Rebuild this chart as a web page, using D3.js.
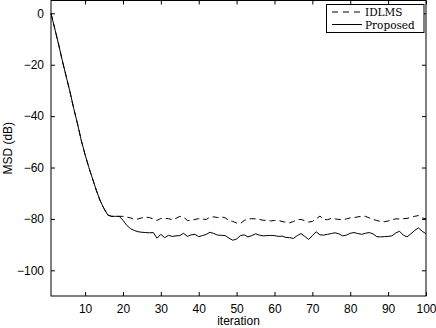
<!DOCTYPE html>
<html>
<head>
<meta charset="utf-8">
<script src="https://cdn.jsdelivr.net/npm/d3@7"></script>
<style>
  body { margin: 0; background: #fff; }
  svg { display: block; }
  .tick text { font-family: "Liberation Sans", Arial, sans-serif; font-size: 12px; fill: #000; }
</style>
</head>
<body>
<svg width="436" height="328"></svg>
<script>
// iteration 1..100
let iterations = d3.range(1, 101);

let idlms = [0, -6, -12, -18.5, -24.5, -30.5, -37, -43, -49.5, -55,
    -60, -64.5, -69, -73, -76, -78.5, -79, -79, -79, -79,
    -79.3, -79.6, -80.2, -80, -79.6, -79.3, -79.5, -80, -80.6, -79.8,
    -79.8, -79.9, -80.3, -79.8, -79, -79.3, -80.6, -80.6, -80.2, -79.9,
    -80.1, -80.2, -79.3, -79.2, -79.5, -79.2, -79.6, -80.6, -81, -81.6,
    -81.8, -80.6, -80.1, -79.9, -80, -80.2, -80.5, -80.6, -80.8, -80.6,
    -80.6, -81, -81.3, -81.5, -81, -80.3, -80.2, -80.7, -81.2, -81,
    -80, -78.9, -80.2, -80.3, -79.8, -80, -80.2, -80.3, -80, -79.6,
    -79.5, -79.2, -79, -79, -79.6, -80.2, -80.6, -81, -81.1, -80.8,
    -80.3, -80, -80, -79.9, -79.8, -79.4, -79, -78.7, -79.6, -80];

let proposed = [0, -6, -12, -18.5, -24.5, -30.5, -37, -43, -49.5, -55,
    -60, -64.5, -69, -73, -76, -78.5, -79, -79, -79, -80.5,
    -82.5, -83.8, -84.5, -85, -85.2, -85.3, -85.4, -85.3, -87.5, -86,
    -87.3, -86.4, -86.8, -86.6, -86.5, -85.6, -86.8, -86.2, -86, -86.9,
    -86.5, -86, -85.2, -85.7, -86.3, -86.4, -86.5, -87.5, -88.3, -87.8,
    -86.5, -86.2, -87, -86.5, -85.8, -86.3, -86.6, -86.5, -86.4, -86.5,
    -86.8, -86.7, -87.2, -87.3, -87.6, -86.5, -85.7, -86.8, -88, -86.5,
    -85, -86.2, -86.3, -86, -85.7, -85.4, -85.8, -86.6, -86.3, -85.6,
    -85.3, -85.7, -86, -85.6, -85.3, -85.8, -86.9, -87, -86.9, -86.8,
    -86.6, -85.5, -84.8, -86.3, -87, -85.8, -84.5, -83.5, -84.8, -85.8];

let xTicks = [10, 20, 30, 40, 50, 60, 70, 80, 90, 100];
let yTicks = [0, -20, -40, -60, -80, -100];
let seriesNames = ["IDLMS", "Proposed"];

let svg = d3.select("svg");
let plotLeft = 51, plotRight = 426, plotTop = 0.5, plotBottom = 296;

let x = d3.scaleLinear().domain([1, 100]).range([plotLeft, plotRight]);
let y = d3.scaleLinear().domain([-110, 5]).range([plotBottom, plotTop]);

let fmt = d => String(d).replace("-", "\u2212");

// axes, ticks pointing inward like matlab
svg.append("g").attr("transform", "translate(0," + plotBottom + ")")
    .call(d3.axisBottom(x).tickValues(xTicks).tickSize(-4).tickPadding(8))
    .call(g => g.select(".domain").remove());
svg.append("g").attr("transform", "translate(0," + plotTop + ")")
    .call(d3.axisTop(x).tickValues(xTicks).tickSize(-4).tickFormat(""))
    .call(g => g.select(".domain").remove());
svg.append("g").attr("transform", "translate(" + plotLeft + ",0)")
    .call(d3.axisLeft(y).tickValues(yTicks).tickSize(-4).tickPadding(7).tickFormat(fmt))
    .call(g => g.select(".domain").remove());
svg.append("g").attr("transform", "translate(" + plotRight + ",0)")
    .call(d3.axisRight(y).tickValues(yTicks).tickSize(-4).tickFormat(""))
    .call(g => g.select(".domain").remove());
svg.selectAll(".tick line").attr("stroke", "#000");

svg.append("rect")
    .attr("x", plotLeft).attr("y", plotTop)
    .attr("width", plotRight - plotLeft).attr("height", plotBottom - plotTop)
    .attr("fill", "none").attr("stroke", "#000").attr("stroke-width", 1);

let line = d3.line().x((d, i) => x(iterations[i])).y(d => y(d));

svg.append("path").datum(idlms)
    .attr("d", line).attr("fill", "none")
    .attr("stroke", "#000").attr("stroke-width", 1)
    .attr("stroke-dasharray", "6,4");

svg.append("path").datum(proposed)
    .attr("d", line).attr("fill", "none")
    .attr("stroke", "#000").attr("stroke-width", 1);

// axis labels
svg.append("text")
    .attr("x", (plotLeft + plotRight) / 2).attr("y", 325)
    .attr("text-anchor", "middle")
    .style("font-family", "Liberation Sans, Arial, sans-serif").style("font-size", "12px")
    .text("iteration");

svg.append("text")
    .attr("transform", "translate(12," + ((plotTop + plotBottom) / 2) + ") rotate(-90)")
    .attr("text-anchor", "middle")
    .style("font-family", "Liberation Sans, Arial, sans-serif").style("font-size", "12px")
    .text("MSD (dB)");

// legend
let legend = svg.append("g");
legend.append("rect")
    .attr("x", 326.5).attr("y", 4.5).attr("width", 97.5).attr("height", 28)
    .attr("fill", "#fff").attr("stroke", "#000").attr("stroke-width", 1);
let dashes = ["6,5", null];
seriesNames.forEach(function(name, i) {
    let ly = 12 + i * 12.5;
    legend.append("line")
        .attr("x1", 332).attr("x2", 362).attr("y1", ly).attr("y2", ly)
        .attr("stroke", "#000").attr("stroke-width", 1)
        .attr("stroke-dasharray", dashes[i]);
    legend.append("text")
        .attr("x", 365).attr("y", ly + 4)
        .style("font-family", "DejaVu Serif, serif").style("font-size", "10.5px")
        .text(name);
});
</script>
</body>
</html>
